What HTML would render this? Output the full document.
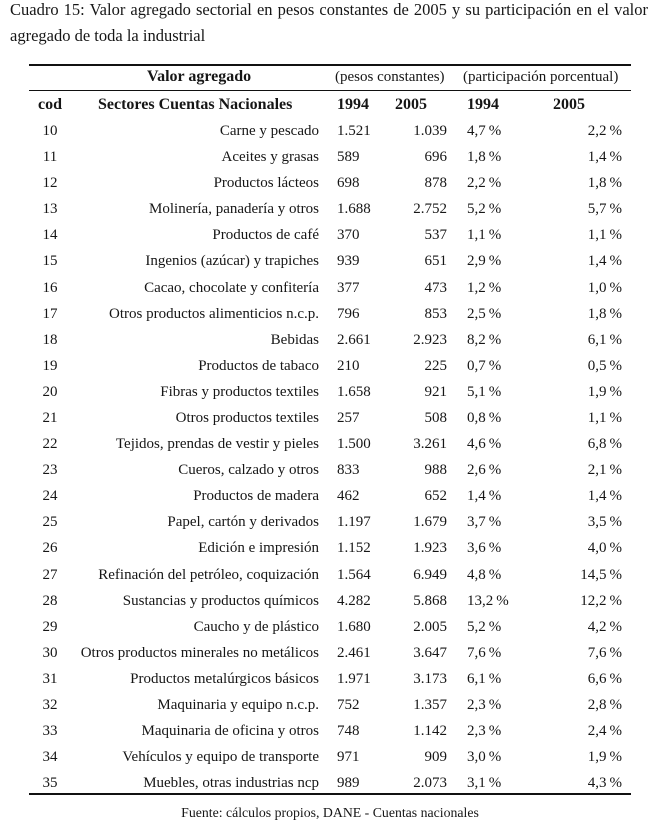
<!DOCTYPE html>
<html><head><meta charset="utf-8">
<style>
html,body{margin:0;padding:0;background:#fff;}
body{width:660px;height:828px;position:relative;overflow:hidden;font-family:"Liberation Serif",serif;color:#161616;}
.t{position:absolute;left:10px;width:638px;font-size:16.5px;line-height:20px;white-space:nowrap;}
.j{text-align:justify;text-align-last:justify;}
.r{position:absolute;left:0;width:660px;height:20px;font-size:15px;line-height:20px;}
.r div{position:absolute;top:0;white-space:nowrap;}
.c{left:30px;width:40px;text-align:center;}
.s{left:0;width:319px;text-align:right;}
.a{left:337px;}
.b{left:0;width:447px;text-align:right;}
.p{left:467px;}
.q{left:0;width:622px;text-align:right;}
.rule{position:absolute;left:29px;width:602px;background:#111;}
.bold{font-weight:bold;font-size:16px;}
</style></head><body>
<div class="t j" style="top:0px;">Cuadro 15: Valor agregado sectorial en pesos constantes de 2005 y su participación en el valor</div>
<div class="t" style="top:26px;">agregado de toda la industrial</div>

<div class="rule" style="top:64px;height:1.6px;"></div>
<div class="r" style="top:67px;">
  <div class="bold" style="left:147px;">Valor agregado</div>
  <div style="left:335px;">(pesos constantes)</div>
  <div style="left:463px;">(participación porcentual)</div>
</div>
<div class="rule" style="top:90px;height:1px;"></div>
<div class="r bold" style="top:95px;">
  <div style="left:38px;">cod</div>
  <div style="left:98px;">Sectores Cuentas Nacionales</div>
  <div style="left:337px;">1994</div>
  <div style="left:395px;">2005</div>
  <div style="left:467px;">1994</div>
  <div style="left:553px;">2005</div>
</div>

<div class="r" style="top:121px;"><div class="c">10</div><div class="s">Carne y pescado</div><div class="a">1.521</div><div class="b">1.039</div><div class="p">4,7&#8201;%</div><div class="q">2,2&#8201;%</div></div>
<div class="r" style="top:147px;"><div class="c">11</div><div class="s">Aceites y grasas</div><div class="a">589</div><div class="b">696</div><div class="p">1,8&#8201;%</div><div class="q">1,4&#8201;%</div></div>
<div class="r" style="top:173px;"><div class="c">12</div><div class="s">Productos lácteos</div><div class="a">698</div><div class="b">878</div><div class="p">2,2&#8201;%</div><div class="q">1,8&#8201;%</div></div>
<div class="r" style="top:199px;"><div class="c">13</div><div class="s">Molinería, panadería y otros</div><div class="a">1.688</div><div class="b">2.752</div><div class="p">5,2&#8201;%</div><div class="q">5,7&#8201;%</div></div>
<div class="r" style="top:225px;"><div class="c">14</div><div class="s">Productos de café</div><div class="a">370</div><div class="b">537</div><div class="p">1,1&#8201;%</div><div class="q">1,1&#8201;%</div></div>
<div class="r" style="top:251px;"><div class="c">15</div><div class="s">Ingenios (azúcar) y trapiches</div><div class="a">939</div><div class="b">651</div><div class="p">2,9&#8201;%</div><div class="q">1,4&#8201;%</div></div>
<div class="r" style="top:278px;"><div class="c">16</div><div class="s">Cacao, chocolate y confitería</div><div class="a">377</div><div class="b">473</div><div class="p">1,2&#8201;%</div><div class="q">1,0&#8201;%</div></div>
<div class="r" style="top:304px;"><div class="c">17</div><div class="s">Otros productos alimenticios n.c.p.</div><div class="a">796</div><div class="b">853</div><div class="p">2,5&#8201;%</div><div class="q">1,8&#8201;%</div></div>
<div class="r" style="top:330px;"><div class="c">18</div><div class="s">Bebidas</div><div class="a">2.661</div><div class="b">2.923</div><div class="p">8,2&#8201;%</div><div class="q">6,1&#8201;%</div></div>
<div class="r" style="top:356px;"><div class="c">19</div><div class="s">Productos de tabaco</div><div class="a">210</div><div class="b">225</div><div class="p">0,7&#8201;%</div><div class="q">0,5&#8201;%</div></div>
<div class="r" style="top:382px;"><div class="c">20</div><div class="s">Fibras y productos textiles</div><div class="a">1.658</div><div class="b">921</div><div class="p">5,1&#8201;%</div><div class="q">1,9&#8201;%</div></div>
<div class="r" style="top:408px;"><div class="c">21</div><div class="s">Otros productos textiles</div><div class="a">257</div><div class="b">508</div><div class="p">0,8&#8201;%</div><div class="q">1,1&#8201;%</div></div>
<div class="r" style="top:434px;"><div class="c">22</div><div class="s">Tejidos, prendas de vestir y pieles</div><div class="a">1.500</div><div class="b">3.261</div><div class="p">4,6&#8201;%</div><div class="q">6,8&#8201;%</div></div>
<div class="r" style="top:460px;"><div class="c">23</div><div class="s">Cueros, calzado y otros</div><div class="a">833</div><div class="b">988</div><div class="p">2,6&#8201;%</div><div class="q">2,1&#8201;%</div></div>
<div class="r" style="top:486px;"><div class="c">24</div><div class="s">Productos de madera</div><div class="a">462</div><div class="b">652</div><div class="p">1,4&#8201;%</div><div class="q">1,4&#8201;%</div></div>
<div class="r" style="top:512px;"><div class="c">25</div><div class="s">Papel, cartón y derivados</div><div class="a">1.197</div><div class="b">1.679</div><div class="p">3,7&#8201;%</div><div class="q">3,5&#8201;%</div></div>
<div class="r" style="top:538px;"><div class="c">26</div><div class="s">Edición e impresión</div><div class="a">1.152</div><div class="b">1.923</div><div class="p">3,6&#8201;%</div><div class="q">4,0&#8201;%</div></div>
<div class="r" style="top:565px;"><div class="c">27</div><div class="s">Refinación del petróleo, coquización</div><div class="a">1.564</div><div class="b">6.949</div><div class="p">4,8&#8201;%</div><div class="q">14,5&#8201;%</div></div>
<div class="r" style="top:591px;"><div class="c">28</div><div class="s">Sustancias y productos químicos</div><div class="a">4.282</div><div class="b">5.868</div><div class="p">13,2&#8201;%</div><div class="q">12,2&#8201;%</div></div>
<div class="r" style="top:617px;"><div class="c">29</div><div class="s">Caucho y de plástico</div><div class="a">1.680</div><div class="b">2.005</div><div class="p">5,2&#8201;%</div><div class="q">4,2&#8201;%</div></div>
<div class="r" style="top:643px;"><div class="c">30</div><div class="s">Otros productos minerales no metálicos</div><div class="a">2.461</div><div class="b">3.647</div><div class="p">7,6&#8201;%</div><div class="q">7,6&#8201;%</div></div>
<div class="r" style="top:669px;"><div class="c">31</div><div class="s">Productos metalúrgicos básicos</div><div class="a">1.971</div><div class="b">3.173</div><div class="p">6,1&#8201;%</div><div class="q">6,6&#8201;%</div></div>
<div class="r" style="top:695px;"><div class="c">32</div><div class="s">Maquinaria y equipo n.c.p.</div><div class="a">752</div><div class="b">1.357</div><div class="p">2,3&#8201;%</div><div class="q">2,8&#8201;%</div></div>
<div class="r" style="top:721px;"><div class="c">33</div><div class="s">Maquinaria de oficina y otros</div><div class="a">748</div><div class="b">1.142</div><div class="p">2,3&#8201;%</div><div class="q">2,4&#8201;%</div></div>
<div class="r" style="top:747px;"><div class="c">34</div><div class="s">Vehículos y equipo de transporte</div><div class="a">971</div><div class="b">909</div><div class="p">3,0&#8201;%</div><div class="q">1,9&#8201;%</div></div>
<div class="r" style="top:773px;"><div class="c">35</div><div class="s">Muebles, otras industrias ncp</div><div class="a">989</div><div class="b">2.073</div><div class="p">3,1&#8201;%</div><div class="q">4,3&#8201;%</div></div>

<div class="rule" style="top:793px;height:1.6px;"></div>
<div style="position:absolute;left:0;width:660px;top:803px;text-align:center;font-size:13.8px;line-height:20px;white-space:nowrap;">Fuente: cálculos propios, DANE - Cuentas nacionales</div>
</body></html>
